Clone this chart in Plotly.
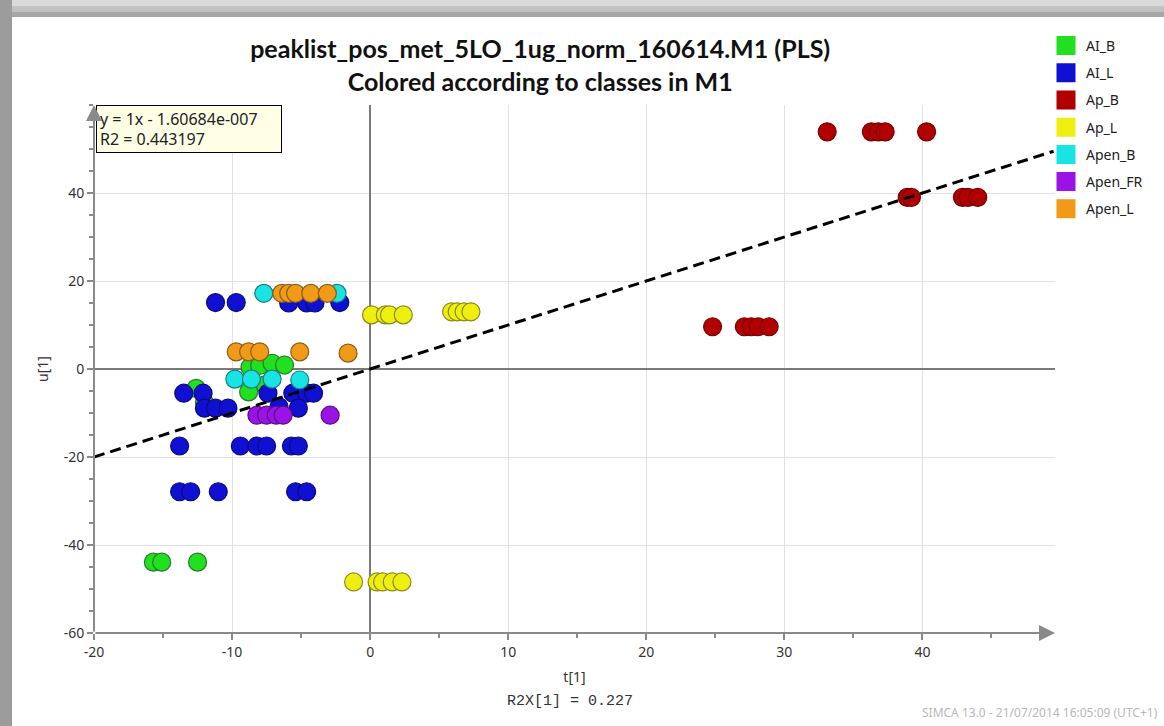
import plotly.graph_objects as go

# ---- class definitions ----
classes = ["AI_B", "AI_L", "Ap_B", "Ap_L", "Apen_B", "Apen_FR", "Apen_L"]
fill_colors = ["#20e020", "#1010d2", "#b00000", "#eeee10", "#18e4e4", "#9a12e6", "#f09a18"]
edge_colors = ["#2a7a2a", "#0a0a7a", "#780000", "#8a8a1a", "#1a7e7e", "#581078", "#8a5e1a"]

# ---- scores t[1] / u[1] per class ----
ai_b_t = [-15.7, -15.1, -12.5, -12.6, -12.0, -8.7, -8.0, -7.1, -6.2, -8.8, -7.6]
ai_b_u = [-43.9, -43.9, -43.9, -4.4, -7.6, 0.4, 0.8, 1.3, 0.9, -5.2, -3.6]

ai_l_t = [-11.2, -9.7, -5.9, -4.6, -4.0, -2.2,
          -13.5, -12.1, -7.4, -5.6, -4.6, -4.1,
          -12.0, -11.2, -10.3, -6.6, -5.2,
          -13.8, -9.4, -8.2, -7.5, -5.7, -5.2,
          -13.8, -13.0, -11.0, -5.4, -4.6]
ai_l_u = [15.1, 15.1, 15.0, 15.0, 15.0, 15.1,
          -5.5, -5.5, -5.5, -5.5, -5.5, -5.5,
          -8.9, -8.9, -8.9, -8.6, -8.9,
          -17.5, -17.5, -17.5, -17.5, -17.5, -17.5,
          -27.9, -27.9, -27.9, -27.9, -27.9]

ap_b_t = [33.1, 36.3, 36.8, 37.3, 40.3, 38.9, 39.2, 42.9, 43.3, 44.0, 24.8, 27.1, 27.6, 28.1, 28.9]
ap_b_u = [53.9, 53.9, 53.9, 53.9, 53.9, 39.0, 39.0, 39.0, 39.0, 39.0, 9.6, 9.6, 9.6, 9.6, 9.6]

ap_l_t = [0.1, 1.1, 1.4, 2.4, 5.9, 6.3, 6.8, 7.3, -1.2, 0.5, 0.9, 1.6, 2.3]
ap_l_u = [12.3, 12.3, 12.3, 12.3, 13.0, 13.0, 13.0, 13.0, -48.4, -48.4, -48.4, -48.4, -48.4]

apen_b_t = [-7.7, -2.4, -9.8, -8.6, -7.1, -5.1]
apen_b_u = [17.2, 17.2, -2.3, -2.3, -2.3, -2.5]

apen_fr_t = [-8.2, -7.5, -6.8, -6.3, -2.9]
apen_fr_u = [-10.5, -10.5, -10.5, -10.5, -10.5]

apen_l_t = [-6.4, -5.9, -5.4, -4.3, -3.1, -9.7, -8.8, -8.0, -5.1, -1.6]
apen_l_u = [17.2, 17.2, 17.2, 17.2, 17.2, 3.9, 3.9, 3.9, 3.9, 3.6]

series_t = [ai_b_t, ai_l_t, ap_b_t, ap_l_t, apen_b_t, apen_fr_t, apen_l_t]
series_u = [ai_b_u, ai_l_u, ap_b_u, ap_l_u, apen_b_u, apen_fr_u, apen_l_u]

# ---- axis tick labels ----
x_tick_vals = [-20, -10, 0, 10, 20, 30, 40]
x_tick_text = ["-20", "-10", "0", "10", "20", "30", "40"]
y_tick_vals = [-60, -40, -20, 0, 20, 40]
y_tick_text = ["-60", "-40", "-20", "0", "20", "40"]

# ---- regression of u[1] on t[1] ----
fit_slope = 1.0
fit_intercept = -1.60684e-007
fit_r2 = 0.443197
fit_t = [-20.0, 49.5]
r2x = 0.227

x_range = [-20, 49.6]
y_range = [-60, 60]

W, H = 1164, 726
ML, MR, MT, MB = 94, 109, 105, 93
PW, PH = W - ML - MR, H - MT - MB


def px_x(p):
    return (p - ML) / PW


def px_y(p):
    return (H - MB - p) / PH


fig = go.Figure()

for name, tt, uu, fc, ec in zip(classes, series_t, series_u, fill_colors, edge_colors):
    fig.add_trace(go.Scatter(
        x=tt, y=uu, mode="markers", name=name, showlegend=False,
        marker=dict(size=18, color=fc, line=dict(color=ec, width=1.2)),
        hoverinfo="x+y+name",
    ))

fig.add_trace(go.Scatter(
    x=fit_t, y=[fit_slope * t + fit_intercept for t in fit_t],
    mode="lines", showlegend=False, hoverinfo="skip",
    line=dict(color="black", width=3, dash="11px,6px"),
))

# square swatches for the class legend
for i, (name, fc) in enumerate(zip(classes, fill_colors)):
    fig.add_trace(go.Scatter(
        x=[None], y=[None], mode="markers", name=name, legendgroup=f"g{i}",
        marker=dict(symbol="square", size=16, color=fc, line=dict(color=fc, width=3)),
    ))

axis_font = dict(family="Noto Sans, DejaVu Sans, sans-serif", size=14, color="#333333")

fig.update_xaxes(
    range=x_range, tickmode="array", tickvals=x_tick_vals, ticktext=x_tick_text,
    showgrid=True, gridcolor="#e2e2e2", gridwidth=1,
    zeroline=True, zerolinecolor="#7a7a7a", zerolinewidth=1.5,
    showline=False, ticks="outside", ticklen=6, tickcolor="#8a8a8a", tickwidth=1.5,
    minor=dict(dtick=5, tick0=0, ticks="outside", ticklen=4, tickcolor="#8a8a8a", showgrid=False),
    tickfont=axis_font,
    title=dict(text="t[1]", font=axis_font, standoff=12),
)
fig.update_yaxes(
    range=y_range, tickmode="array", tickvals=y_tick_vals, ticktext=y_tick_text,
    showgrid=True, gridcolor="#e2e2e2", gridwidth=1,
    zeroline=True, zerolinecolor="#7a7a7a", zerolinewidth=1.5,
    showline=False, ticks="outside", ticklen=6, tickcolor="#8a8a8a", tickwidth=1.5,
    minor=dict(dtick=5, tick0=0, ticks="outside", ticklen=4, tickcolor="#8a8a8a", showgrid=False),
    tickfont=axis_font,
    title=dict(text="u[1]", font=axis_font, standoff=11),
)

annotations = [
    # regression readout box
    dict(xref="paper", yref="paper", x=px_x(96), y=px_y(105), xanchor="left", yanchor="top",
         text=f"y = {fit_slope:g}x - {abs(fit_intercept):.5e}".replace("e-07", "e-007")
              + f"<br>R2 = {fit_r2}",
         showarrow=False, align="left", bgcolor="#ffffe6", bordercolor="#000000",
         borderwidth=1, borderpad=3, width=178, height=40,
         font=dict(family="Noto Sans, DejaVu Sans, sans-serif", size=16, color="#222222")),
    # axis lines with arrow heads
    dict(x=x_range[1], y=y_range[0], ax=x_range[0], ay=y_range[0], xref="x", yref="y",
         axref="x", ayref="y", text="", showarrow=True, arrowhead=2, arrowsize=1.6,
         arrowwidth=2, arrowcolor="#8a8a8a", standoff=0),
    dict(x=x_range[0], y=y_range[1], ax=x_range[0], ay=y_range[0], xref="x", yref="y",
         axref="x", ayref="y", text="", showarrow=True, arrowhead=2, arrowsize=1.6,
         arrowwidth=2, arrowcolor="#8a8a8a", standoff=0),
    # explained variance below the t[1] axis
    dict(xref="paper", yref="paper", x=px_x(570), y=px_y(701), xanchor="center", yanchor="middle",
         text=f"R2X[1] = {r2x}", showarrow=False,
         font=dict(family="Liberation Mono, DejaVu Sans Mono, monospace", size=15, color="#333333")),
    # software stamp
    dict(xref="paper", yref="paper", x=px_x(1160), y=px_y(712), xanchor="right", yanchor="middle",
         text="SIMCA 13.0 - 21/07/2014 16:05:09 (UTC+1)", showarrow=False,
         font=dict(family="Noto Sans, DejaVu Sans, sans-serif", size=12, color="#b8b8b8")),
]

shapes = [
    dict(type="rect", xref="paper", yref="paper", x0=px_x(0), x1=px_x(W), y0=px_y(0), y1=px_y(6),
         fillcolor="#dadada", line=dict(width=0), layer="below"),
    dict(type="rect", xref="paper", yref="paper", x0=px_x(0), x1=px_x(W), y0=px_y(6), y1=px_y(12),
         fillcolor="#c2c2c2", line=dict(width=0), layer="below"),
    dict(type="rect", xref="paper", yref="paper", x0=px_x(0), x1=px_x(W), y0=px_y(12), y1=px_y(17),
         fillcolor="#a6a6a6", line=dict(width=0), layer="below"),
    dict(type="rect", xref="paper", yref="paper", x0=px_x(0), x1=px_x(12), y0=px_y(0), y1=px_y(H),
         fillcolor="#9c9c9c", line=dict(width=0), layer="below"),
]

fig.update_layout(
    width=W, height=H,
    margin=dict(l=ML, r=MR, t=MT, b=MB),
    paper_bgcolor="white", plot_bgcolor="white",
    title=dict(
        text="peaklist_pos_met_5LO_1ug_norm_160614.M1 (PLS)<br>Colored according to classes in M1",
        x=px_x(540), xanchor="center", y=1 - 58 / H, yanchor="middle",
        font=dict(family="Lato, Noto Sans, sans-serif", size=25, color="#111111", weight="bold"),
    ),
    legend=dict(
        x=px_x(1046), y=px_y(30), xanchor="left", yanchor="top",
        font=dict(family="Noto Sans, DejaVu Sans, sans-serif", size=14, color="#222222"),
        bgcolor="rgba(255,255,255,0)", tracegroupgap=6, itemclick=False,
    ),
    annotations=annotations,
    shapes=shapes,
    showlegend=True,
)

fig.write_html("out.html")
